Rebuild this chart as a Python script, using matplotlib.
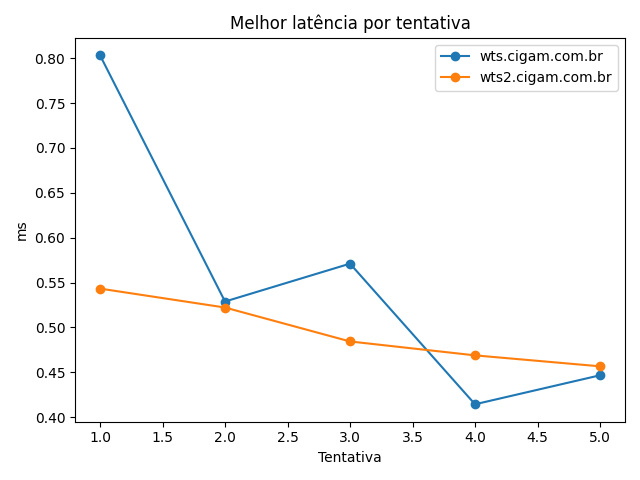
import matplotlib
matplotlib.use("Agg")
import matplotlib.pyplot as plt

tentativas = [1, 2, 3, 4, 5]
wts = [0.8033, 0.5289, 0.5711, 0.4144, 0.4467]
wts2 = [0.5433, 0.5222, 0.4844, 0.4689, 0.4567]

fig, ax = plt.subplots(figsize=(6.4, 4.8), dpi=100)
ax.plot(tentativas, wts, marker="o", label="wts.cigam.com.br")
ax.plot(tentativas, wts2, marker="o", label="wts2.cigam.com.br")
ax.set_title("Melhor latência por tentativa")
ax.set_xlabel("Tentativa")
ax.set_ylabel("ms")
ax.legend()
fig.tight_layout()
fig.savefig("out.png")
